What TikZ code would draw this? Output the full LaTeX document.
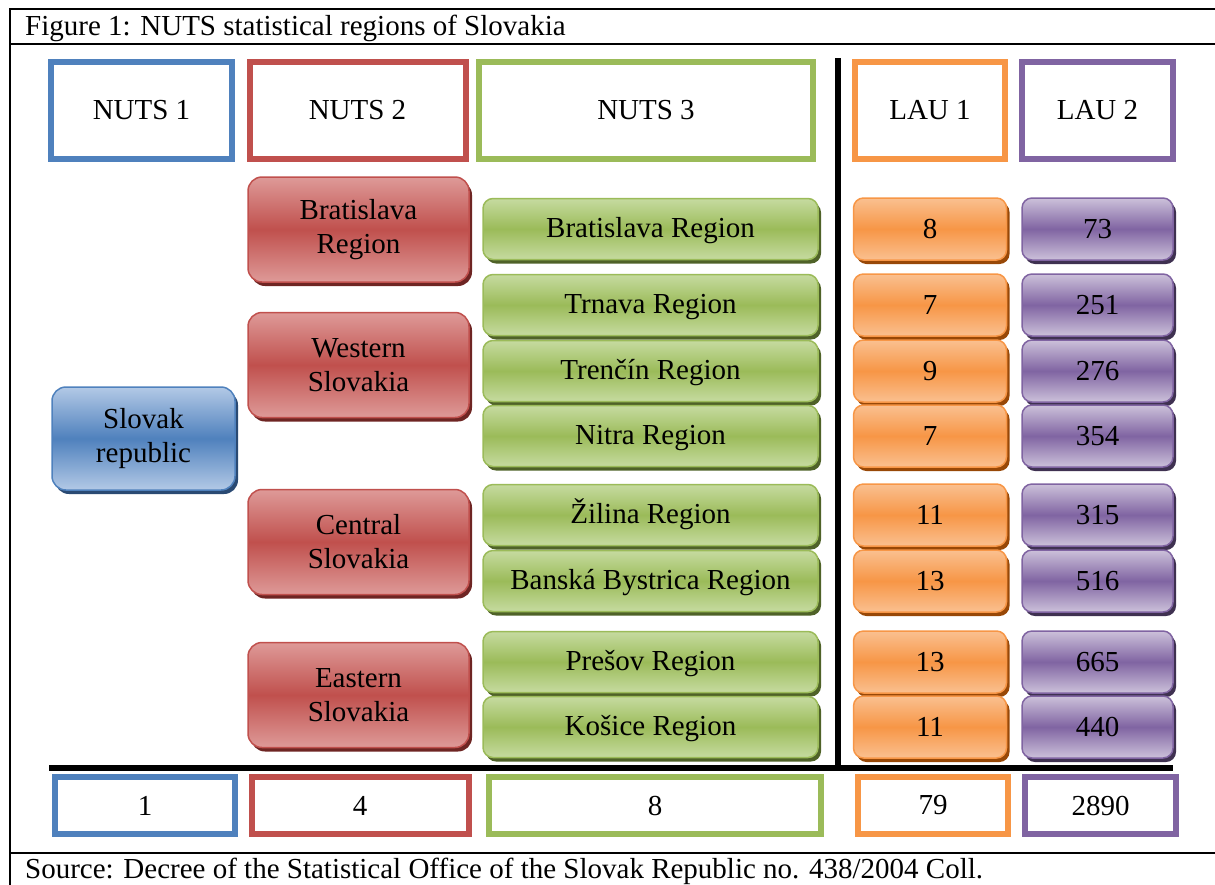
\documentclass[tikz,border=0pt]{standalone}
\usepackage{fontspec}
\setmainfont{Liberation Serif}
\usetikzlibrary{shadows}
\definecolor{nblue}{HTML}{4F81BD}
\definecolor{nblueL}{HTML}{B3C9E6}
\definecolor{nblueD}{HTML}{2A4A73}
\definecolor{nred}{HTML}{C0504D}
\definecolor{nredL}{HTML}{DE9A98}
\definecolor{nredD}{HTML}{6E2523}
\definecolor{ngreen}{HTML}{9BBB59}
\definecolor{ngreenL}{HTML}{C6DBA0}
\definecolor{ngreenD}{HTML}{4F6228}
\definecolor{norange}{HTML}{F79646}
\definecolor{norangeL}{HTML}{FAC090}
\definecolor{norangeD}{HTML}{984807}
\definecolor{npurple}{HTML}{8064A2}
\definecolor{npurpleL}{HTML}{CCC1DA}
\definecolor{npurpleD}{HTML}{3F3151}
\newcommand{\bigfs}{\fontsize{29}{34}\selectfont}
\tikzset{
  hdr/.style={draw=#1, line width=6pt, fill=white, inner sep=0pt, font=\bigfs},
  pill/.style n args={2}{rounded corners=#2, draw=#1, line width=1.5pt,
    top color=#1L, bottom color=#1L, middle color=#1,
    general shadow={fill=#1D, shadow xshift=3pt, shadow yshift=-4pt},
    inner sep=0pt, align=center, font=\bigfs},
  bluebox/.style={pill={nblue}{14pt}, minimum width=183pt, minimum height=103pt},
  redbox/.style={pill={nred}{14pt}, minimum width=221pt, minimum height=105pt},
  greenbox/.style={pill={ngreen}{10pt}, minimum width=335pt, minimum height=61pt, text height=20pt, text depth=3pt},
  orangebox/.style={pill={norange}{10pt}, minimum width=153pt, minimum height=62pt},
  purplebox/.style={pill={npurple}{10pt}, minimum width=151pt, minimum height=62pt},
  frameline/.style={line width=2.5pt, black},
  sepline/.style={line width=6.5pt, black}
}
\begin{document}
\begin{tikzpicture}[x=1pt,y=-1pt]
\useasboundingbox (0,0) rectangle (1215,884);
% frame
\draw[frameline] (1230,9) -- (10,9) -- (10,900);
\draw[frameline] (10,44) -- (1230,44);
\draw[frameline] (10,853) -- (1230,853);
\node[anchor=base west, inner sep=0pt, font=\bigfs] (title) at (25,35) {Figure 1: NUTS statistical regions of Slovakia};
\node[anchor=base west, inner sep=0pt, font=\bigfs] (source) at (25,878) {Source: Decree of the Statistical Office of the Slovak Republic no. 438/2004 Coll.};
% separators
\coordinate (vtop) at (838,58);
\coordinate (vbot) at (838,768);
\coordinate (hl) at (49,768);
\coordinate (hr) at (1173,768);
\draw[sepline] (vtop) -- (vbot);
\draw[sepline] (hl) -- (hr);
% header boxes
\node[hdr=nblue, minimum width=181pt, minimum height=97pt] (h1) at (141.5,110.5) {NUTS 1};
\node[hdr=nred, minimum width=216pt, minimum height=97pt] (h2) at (357.5,110.5) {NUTS 2};
\node[hdr=ngreen, minimum width=334pt, minimum height=97pt] (h3) at (646,110.5) {NUTS 3};
\node[hdr=norange, minimum width=150pt, minimum height=97pt] (h4) at (930,110.5) {LAU 1};
\node[hdr=npurple, minimum width=151pt, minimum height=97pt] (h5) at (1097.5,110.5) {LAU 2};
% NUTS 1
\node[bluebox] (sk) at (143.5,438.5) {Slovak\\republic};
% NUTS 2
\node[redbox] (r1) at (358.5,229.5) {Bratislava\\Region};
\node[redbox] (r2) at (358.5,365) {Western\\Slovakia};
\node[redbox] (r3) at (358.5,542) {Central\\Slovakia};
\node[redbox] (r4) at (358.5,695) {Eastern\\Slovakia};
% NUTS 3
\node[greenbox] (g1) at (650.5,229) {Bratislava Region};
\node[greenbox] (g2) at (650.5,305) {Trnava Region};
\node[greenbox] (g3) at (650.5,371) {Trenčín Region};
\node[greenbox] (g4) at (650.5,436) {Nitra Region};
\node[greenbox] (g5) at (650.5,515) {Žilina Region};
\node[greenbox] (g6) at (650.5,581) {Banská Bystrica Region};
\node[greenbox] (g7) at (650.5,662) {Prešov Region};
\node[greenbox] (g8) at (650.5,727) {Košice Region};
% LAU 1
\node[orangebox] (o1) at (930,229) {8};
\node[orangebox] (o2) at (930,305) {7};
\node[orangebox] (o3) at (930,371) {9};
\node[orangebox] (o4) at (930,436) {7};
\node[orangebox] (o5) at (930,515) {11};
\node[orangebox] (o6) at (930,581) {13};
\node[orangebox] (o7) at (930,662) {13};
\node[orangebox] (o8) at (930,727) {11};
% LAU 2
\node[purplebox] (p1) at (1097.5,229) {73};
\node[purplebox] (p2) at (1097.5,305) {251};
\node[purplebox] (p3) at (1097.5,371) {276};
\node[purplebox] (p4) at (1097.5,436) {354};
\node[purplebox] (p5) at (1097.5,515) {315};
\node[purplebox] (p6) at (1097.5,581) {516};
\node[purplebox] (p7) at (1097.5,662) {665};
\node[purplebox] (p8) at (1097.5,727) {440};
% totals
\node[hdr=nblue, minimum width=180pt, minimum height=57pt] (b1) at (145,805.5) {1};
\node[hdr=nred, minimum width=217pt, minimum height=57pt] (b2) at (360,805.5) {4};
\node[hdr=ngreen, minimum width=332pt, minimum height=57pt] (b3) at (655,805.5) {8};
\node[hdr=norange, minimum width=150pt, minimum height=57pt] (b4) at (933,805.5) {79};
\node[hdr=npurple, minimum width=151pt, minimum height=57pt] (b5) at (1100.5,805.5) {2890};
\end{tikzpicture}
\end{document}
